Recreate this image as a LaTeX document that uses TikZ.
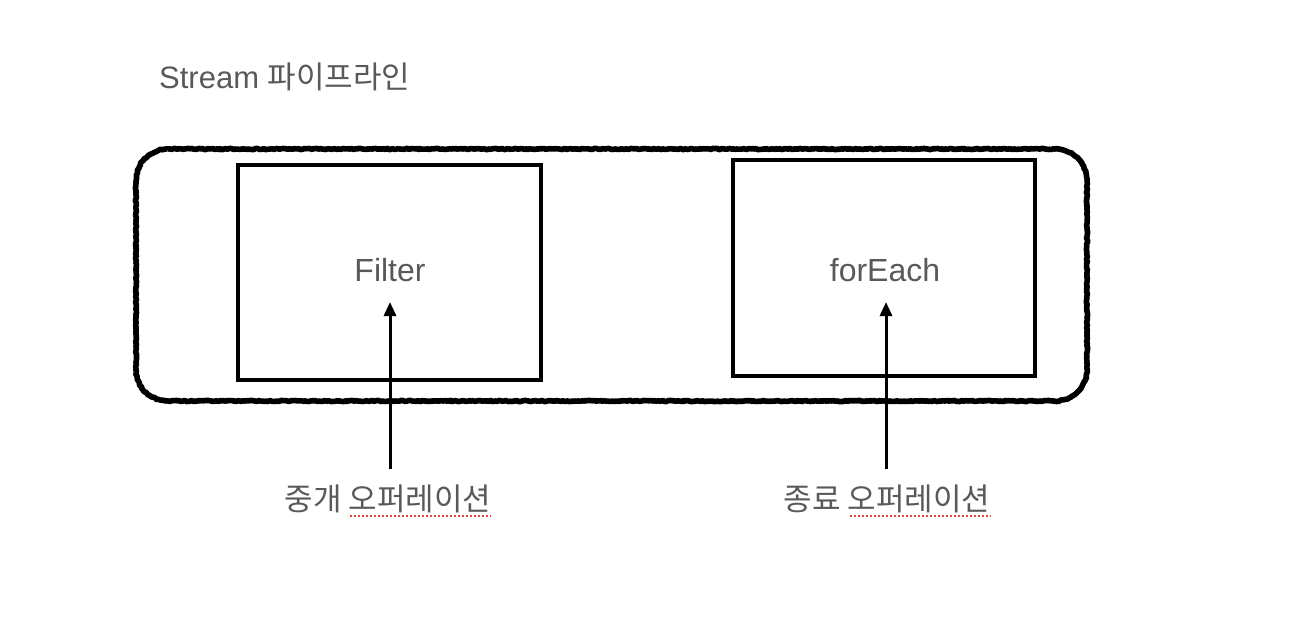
\documentclass[tikz,border=0pt]{standalone}
\usepackage{fontspec}
\setmainfont{Liberation Sans}
\newfontfamily\kr{Noto Sans CJK KR}
\usetikzlibrary{arrows.meta,decorations.pathmorphing,calc}
\definecolor{txt}{HTML}{595959}
\definecolor{spellred}{HTML}{E4463C}
\begin{document}
\begin{tikzpicture}[x=1pt,y=-1pt,
  opbox/.style={draw=black,line width=3.1pt},
  lbl/.style={text=txt,font=\fontsize{32}{38}\selectfont,inner sep=0pt},
  krlbl/.style={text=txt,font=\kr\fontsize{31}{36}\selectfont,inner sep=0pt},
  arr/.style={-{Triangle[length=14pt,width=12pt]},line width=3pt},
  spell/.style={draw=spellred,line width=1.6pt,dash pattern=on 2pt off 2pt}]
\useasboundingbox (0,0) rectangle (1314,618);
\pgfmathsetseed{7}
% title
\node[anchor=west,text=txt,font=\fontsize{31}{36}\selectfont,inner sep=0pt] (title) at (159,77) {Stream {\kr 파이프라인}};
% outer rough rounded rectangle
\draw[line width=5.6pt,line join=round,
  decorate,decoration={random steps,segment length=1.5pt,amplitude=0.6pt}]
  (168,149) -- (1055,149) .. controls (1073,149) and (1087,163) .. (1087,181)
  -- (1087,369) .. controls (1087,387) and (1073,401) .. (1055,401)
  -- (168,401) .. controls (150,401) and (136,387) .. (136,369)
  -- (136,181) .. controls (136,163) and (150,149) .. (168,149) -- cycle;
% boxes
\node[opbox,minimum width=303pt,minimum height=215pt,inner sep=0pt] (filter) at (389.5,272.5) {};
\node[opbox,minimum width=302pt,minimum height=216pt,inner sep=0pt] (foreach) at (884,268) {};
\node[lbl] (filtertxt) at (390,270) {Filter};
\node[lbl] (foreachtxt) at (885,270) {forEach};
% labels
\node[krlbl] (mid) at (388,499) {중개 오퍼레이션};
\node[krlbl] (term) at (887,499) {종료 오퍼레이션};
% arrow ends
\coordinate (a1) at (390,302);
\coordinate (a2) at (886,302);
\draw[arr] (390,469) -- (a1);
\draw[arr] (886,469) -- (a2);
% spell-check underlines
\draw[spell] ($(mid.south east)+(-141,3)$) -- ($(mid.south east)+(0,3)$);
\draw[spell] ($(term.south east)+(-141,3)$) -- ($(term.south east)+(0,3)$);
\end{tikzpicture}
\end{document}
